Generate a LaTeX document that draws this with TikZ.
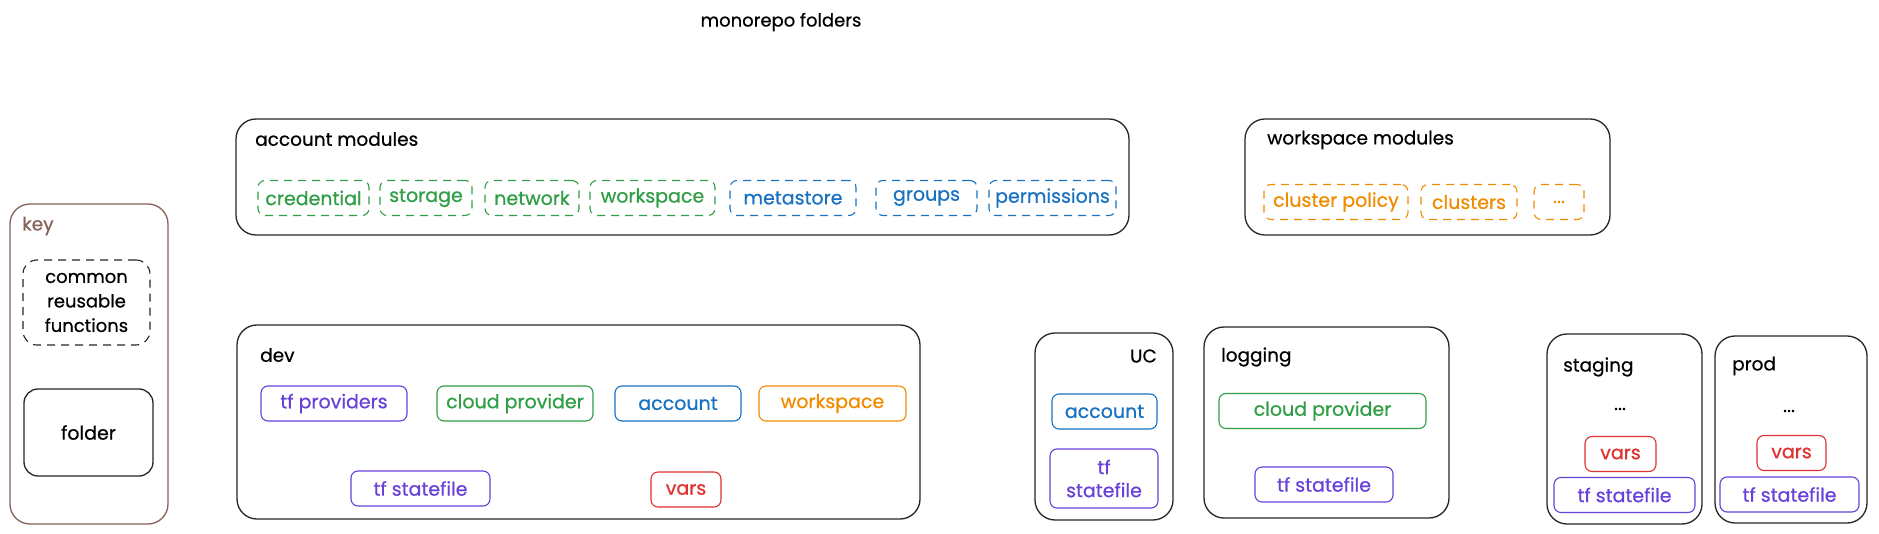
\documentclass[tikz,border=0pt]{standalone}
\usepackage{fontspec}
\setmainfont{Poppins}[FakeBold=0.6]
\usetikzlibrary{positioning}
\definecolor{exgreen}{HTML}{2F9E44}
\definecolor{exblue}{HTML}{1971C2}
\definecolor{exorange}{HTML}{F08C00}
\definecolor{exred}{HTML}{E03131}
\definecolor{expurple}{HTML}{6741D9}
\definecolor{exbrown}{HTML}{846358}
\begin{document}
\begin{tikzpicture}[x=1pt,y=-1pt]
	\tikzstyle{folder} = [draw=black!85, line width=1.3pt, rounded corners=20pt, inner sep=0pt]
	\tikzstyle{item} = [draw, line width=1.1pt, rounded corners=7pt, minimum height=35pt, inner sep=0pt, font=\fontsize{19}{22}\selectfont]
	\tikzstyle{module} = [item, dash pattern=on 8pt off 6pt]
	\tikzstyle{label} = [anchor=west, inner sep=0pt, font=\fontsize{18.5}{22}\selectfont]
	\fill[white] (0,0) rectangle (1879,534);
	\useasboundingbox (0,0) rectangle (1879,534);
	
	\node[inner sep=0pt, font=\fontsize{18}{22}\selectfont] (title) at (781,22) {monorepo folders};
	
	% Leyenda
	\node[folder, draw=exbrown, minimum width=158pt, minimum height=320pt] (key) at (89,364) {};
	\node[label, exbrown] (keylbl) at (22,226) {key};
	\node[folder, rounded corners=14pt, dash pattern=on 8pt off 6pt, line width=1.1pt, minimum width=127pt, minimum height=85pt, align=center, font=\fontsize{18}{24.5}\selectfont] (common) at (86.5,302.5) {common\\reusable\\functions};
	\node[folder, rounded corners=14pt, minimum width=129pt, minimum height=87pt, font=\fontsize{19}{22}\selectfont] (fold) at (88.5,432.5) {folder};
	
	% Modulos de cuenta
	\node[folder, minimum width=893pt, minimum height=116pt] (accmod) at (682.5,177) {};
	\node[label] (accmodlbl) at (255,139) {account modules};
	\node[module, exgreen, minimum width=111pt] (cred) at (313.5,198) {credential};
	\node[module, exgreen, minimum width=92pt] (stor) at (426,198) {storage};
	\node[module, exgreen, minimum width=94pt] (net) at (532,198) {network};
	\node[module, exgreen, minimum width=125pt] (wsp) at (652.5,198) {workspace};
	\node[module, exblue, minimum width=126pt] (meta) at (793,198) {metastore};
	\node[module, exblue, minimum width=101pt] (grp) at (926.5,198) {groups};
	\node[module, exblue, minimum width=127pt] (perm) at (1052.5,198) {permissions};
	
	% Modulos de workspace
	\node[folder, minimum width=365pt, minimum height=116pt] (wsmod) at (1427.5,177) {};
	\node[label] (wsmodlbl) at (1267,140) {workspace modules};
	\node[module, exorange, minimum width=144pt] (clpol) at (1336,202) {cluster policy};
	\node[module, exorange, minimum width=96pt] (clus) at (1469,202) {clusters};
	\node[module, exorange, minimum width=50pt] (wsmore) at (1559,202) {...};
	
	% dev
	\node[folder, minimum width=683pt, minimum height=194pt] (dev) at (578.5,422) {};
	\node[label] (devlbl) at (260,355) {dev};
	\node[item, expurple, minimum width=146pt] (devprov) at (334,403.5) {tf providers};
	\node[item, exgreen, minimum width=156pt] (devcloud) at (515,403.5) {cloud provider};
	\node[item, exblue, minimum width=126pt] (devacc) at (678,403.5) {account};
	\node[item, exorange, minimum width=147pt] (devws) at (832.5,403.5) {workspace};
	\node[item, expurple, minimum width=139pt] (devstate) at (420.5,488.5) {tf statefile};
	\node[item, exred, minimum width=70pt] (devvars) at (686,489.5) {vars};
	
	% UC
	\node[folder, minimum width=138pt, minimum height=187pt] (uc) at (1104,426.5) {};
	\node[label, anchor=east] (uclbl) at (1157,356) {UC};
	\node[item, exblue, minimum width=105pt] (ucacc) at (1104.5,411.5) {account};
	\node[item, expurple, minimum width=108pt, minimum height=59pt, align=center, font=\fontsize{19}{23}\selectfont] (ucstate) at (1104,478.5) {tf\\statefile};
	
	% logging
	\node[folder, minimum width=245pt, minimum height=191pt] (log) at (1326.5,422.5) {};
	\node[label] (loglbl) at (1221,357) {logging};
	\node[item, exgreen, minimum width=207pt] (logcloud) at (1322.5,411) {cloud provider};
	\node[item, expurple, minimum width=138pt] (logstate) at (1324,484.5) {tf statefile};
	
	% staging y prod
	\node[folder, minimum width=155pt, minimum height=190pt] (stg) at (1624.5,429) {};
	\node[label] (stglbl) at (1563,367) {staging};
	\node[inner sep=0pt, font=\fontsize{19}{22}\selectfont] (stgmore) at (1620,409) {...};
	\node[item, exred, minimum width=71pt] (stgvars) at (1620.5,454) {vars};
	\node[item, expurple, minimum width=141pt] (stgstate) at (1624.5,495) {tf statefile};
	
	\node[folder, minimum width=152pt, minimum height=187pt] (prod) at (1791,429.5) {};
	\node[label] (prodlbl) at (1732,366) {prod};
	\node[inner sep=0pt, font=\fontsize{19}{22}\selectfont] (prodmore) at (1789,411) {...};
	\node[item, exred, minimum width=69pt] (prodvars) at (1791.5,453) {vars};
	\node[item, expurple, minimum width=139pt] (prodstate) at (1789.5,494.5) {tf statefile};
\end{tikzpicture}
\end{document}
